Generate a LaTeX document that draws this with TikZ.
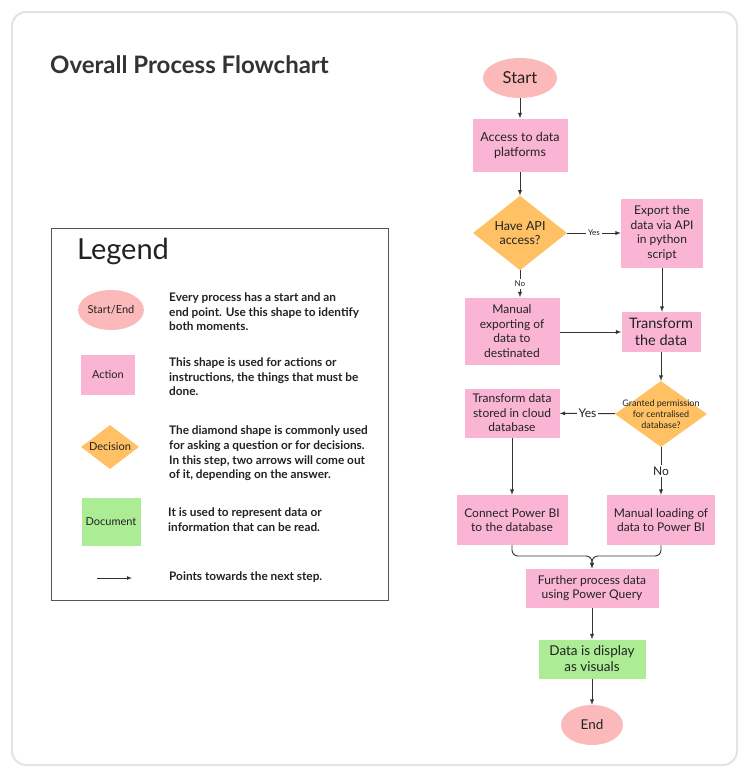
\documentclass[tikz,border=0pt]{standalone}
\usepackage{fontspec}
\setmainfont{Lato}
\usetikzlibrary{shapes.geometric}
\definecolor{actpink}{HTML}{FBB5D4}
\definecolor{endpink}{HTML}{FBB9B9}
\definecolor{decorange}{HTML}{FFC163}
\definecolor{docgreen}{HTML}{ABEC95}
\definecolor{inkgray}{HTML}{222222}
\definecolor{linegray}{HTML}{333333}
\definecolor{framegray}{HTML}{E3E3E3}
\definecolor{boxgray}{HTML}{555555}
\begin{document}
\begin{tikzpicture}[x=1pt,y=-1pt,
every node/.style={text=inkgray},
act/.style={%
fill=actpink,
align=center,
inner sep=0pt,
font=\fontsize{12}{14.6}\selectfont
},
term/.style={%
ellipse,
fill=endpink,
inner sep=0pt,
},
dec/.style={%
diamond,
fill=decorange,
align=center,
inner sep=0pt,
},
doc/.style={%
fill=docgreen,
align=center,
inner sep=0pt,
},
arr/.style={%
-{latex},
draw=linegray,
line width=0.9pt,
},
lbl/.style={%
fill=white,
inner sep=2pt,
},
desc/.style={%
anchor=west,
align=left,
inner sep=0pt,
font=\bfseries\fontsize{11.8}{14.6}\selectfont,
},
]
%% Frame
\fill[white](0,0)rectangle(748,777);
\draw[framegray,line width=2pt,rounded corners=14pt,fill=white](12,12)rectangle(737,765);
\node[anchor=west,inner sep=0pt,text=linegray,font=\bfseries\fontsize{24}{28}\selectfont](title)at(50,65){Overall Process Flowchart};
%% Legend
\draw[boxgray,line width=1pt](51,228)rectangle(388,600);
\node[anchor=west,inner sep=0pt,font=\fontsize{29}{32}\selectfont](legendtitle)at(77,251){Legend};
\node[term,minimum width=60,minimum height=40,font=\fontsize{11}{13}\selectfont](lgterm)at(111,310){Start/End};
\node[act,minimum width=54,minimum height=40,font=\fontsize{11}{13}\selectfont](lgact)at(108,375){Action};
\node[dec,minimum width=58,minimum height=44,inner xsep=-4pt,font=\fontsize{11}{13}\selectfont](lgdec)at(110,447){Decision};
\node[doc,minimum width=59,minimum height=48,font=\fontsize{11}{13}\selectfont](lgdoc)at(111,522){Document};
\coordinate(lgfrom)at(97,578);
\coordinate(lgto)at(132,578);
\draw[arr,line width=0.7pt](lgfrom)--(lgto);
\node[desc](dterm)at(169,312){Every process has a start and an\\end point. Use this shape to identify\\both moments.};
\node[desc](dact)at(169,377){This shape is used for actions or\\instructions, the things that must be\\done.};
\node[desc](ddec)at(169,453.5){The diamond shape is commonly used\\for asking a question or for decisions.\\In this step, two arrows will come out\\of it, depending on the answer.};
\node[desc](ddoc)at(168,519.5){It is used to represent data or\\information that can be read.};
\node[desc](darr)at(169,577){Points towards the next step.};
%% Flowchart
\node[term,minimum width=74,minimum height=40,font=\fontsize{16.5}{18}\selectfont](start)at(520,78){Start};
\node[act,minimum width=95,minimum height=53,font=\fontsize{12.5}{15}\selectfont](access)at(520,145){Access to data\\platforms};
\node[dec,minimum width=94,minimum height=66,font=\fontsize{12.5}{14.5}\selectfont](api)at(520,233){Have API\\access?};
\node[act,minimum width=82,minimum height=69](export)at(662,233){Export the\\data via API\\in python\\script};
\node[act,minimum width=95,minimum height=67](manual)at(512,331){Manual\\exporting of\\data to\\destinated};
\node[act,minimum width=79,minimum height=40,font=\fontsize{14.5}{17.5}\selectfont](transform)at(661,332){Transform\\the data};
\node[dec,minimum width=92,minimum height=66,inner xsep=-22pt,font=\fontsize{9}{11}\selectfont](granted)at(661,414){Granted permission\\for centralised\\database?};
\node[act,minimum width=95,minimum height=49](cloud)at(512,413){Transform data\\stored in cloud\\database};
\node[act,minimum width=111,minimum height=50](connect)at(512,520){Connect Power BI\\to the database};
\node[act,minimum width=108,minimum height=50](loading)at(661,520){Manual loading of\\data to Power BI};
\node[act,minimum width=133,minimum height=39](further)at(592,588){Further process data\\using Power Query};
\node[doc,minimum width=107,minimum height=39,font=\fontsize{13.5}{16}\selectfont](visuals)at(592,659){Data is display\\as visuals};
\node[term,minimum width=62,minimum height=40,font=\fontsize{13.5}{15}\selectfont](end)at(592,725){End};
%% Connectors
\draw[arr](start)--(access);
\draw[arr](access)--(api);
\draw[arr](api)--node[lbl,font=\fontsize{8}{9}\selectfont]{Yes}(export);
\draw[arr](api.south)--node[lbl,font=\fontsize{8}{9}\selectfont]{No}(api.south|-manual.north);
\draw[arr](export.south)--(export.south|-transform.north);
\draw[arr](manual.east|-transform)--(transform);
\draw[arr](transform)--(granted);
\draw[arr](granted)--node[lbl,font=\fontsize{12}{14}\selectfont]{Yes}(cloud);
\draw[arr](granted)--node[lbl,font=\fontsize{12}{14}\selectfont]{No}(loading);
\draw[arr](cloud)--(connect);
\coordinate(merge)at(592,556);
\draw[arr,rounded corners=6pt](connect.south)|-(merge)--(further.north);
\draw[arr,rounded corners=6pt](loading.south)|-(merge)--(further.north);
\draw[arr](further)--(visuals);
\draw[arr](visuals)--(end);
\end{tikzpicture}
\end{document}
